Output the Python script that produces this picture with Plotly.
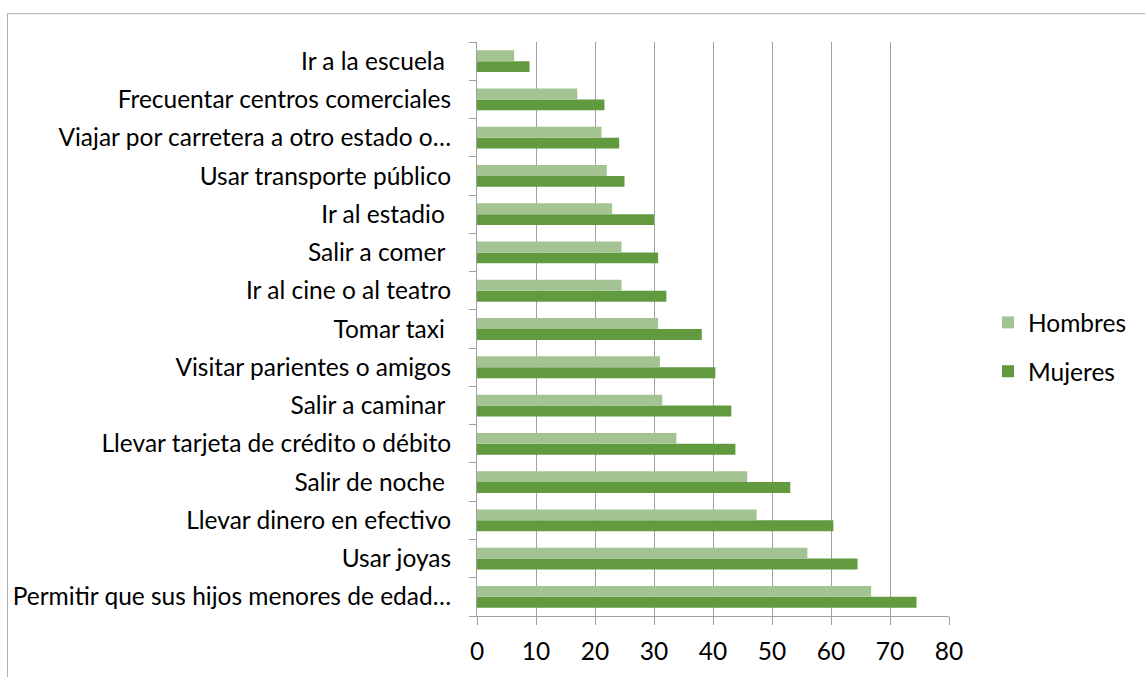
import plotly.graph_objects as go

NB = "\u00a0"
categories = [
    "Permitir que sus hijos menores de edad…",
    "Usar joyas",
    "Llevar dinero en efectivo",
    "Salir de noche" + NB,
    "Llevar tarjeta de crédito o débito",
    "Salir a caminar" + NB,
    "Visitar parientes o amigos",
    "Tomar taxi" + NB,
    "Ir al cine o al teatro",
    "Salir a comer" + NB,
    "Ir al estadio" + NB,
    "Usar transporte público",
    "Viajar por carretera a otro estado o…",
    "Frecuentar centros comerciales",
    "Ir a la escuela" + NB,
]
hombres = [66.8, 56.0, 47.4, 45.8, 33.8, 31.4, 31.0, 30.7, 24.5, 24.5, 22.9, 22.0, 21.1, 17.0, 6.3]
mujeres = [74.5, 64.5, 60.4, 53.1, 43.8, 43.1, 40.4, 38.1, 32.1, 30.7, 30.0, 25.0, 24.1, 21.6, 8.9]
x_ticks = [0, 10, 20, 30, 40, 50, 60, 70, 80]

FONT = "Lato"
FS = 24.5
C_H = "#A3C492"
C_M = "#629B3F"
GRID = "#a0a0a0"

fig = go.Figure()
fig.add_trace(go.Bar(y=categories, x=mujeres, orientation="h", name="Mujeres",
                     legendgroup="m", legendrank=2,
                     marker=dict(color=C_M, line=dict(width=0))))
fig.add_trace(go.Bar(y=categories, x=hombres, orientation="h", name="Hombres",
                     legendgroup="h", legendrank=1,
                     marker=dict(color=C_H, line=dict(width=0))))

W, H = 1145, 677
L, R, T, B = 477, 196, 42, 59
pw, ph = W - L - R, H - T - B

def px(x):
    return (x - L) / pw

def py(y):
    return (H - B - y) / ph

fig.update_layout(
    width=W, height=H,
    margin=dict(l=L, r=R, t=T, b=B, pad=0),
    paper_bgcolor="white", plot_bgcolor="white",
    barmode="group", bargap=0.43, bargroupgap=0,
    font=dict(family=FONT, size=FS, color="#000000"),
    showlegend=True,
    legend=dict(x=px(988), y=py(348), xanchor="left", yanchor="middle",
                traceorder="grouped", font=dict(family=FONT, size=FS),
                itemwidth=30, tracegroupgap=14, bgcolor="rgba(0,0,0,0)"),
    xaxis=dict(range=[0, 80], tickvals=x_ticks, ticktext=[str(v) for v in x_ticks],
               showgrid=True, gridcolor=GRID, gridwidth=1,
               showline=True, linecolor=GRID, linewidth=1,
               ticks="outside", ticklen=8, tickcolor=GRID, ticklabelstandoff=6,
               zeroline=False, tickfont=dict(size=FS, family=FONT)),
    yaxis=dict(type="category", categoryorder="array", categoryarray=categories,
               showgrid=False, showline=True, linecolor=GRID, linewidth=1,
               ticks="outside", ticklen=7, tickcolor=GRID, tickson="boundaries",
               ticklabelstandoff=20, tickfont=dict(size=FS, family=FONT)),
    shapes=[dict(type="rect", xref="paper", yref="paper",
                 x0=px(7.5), x1=px(1170), y0=py(700), y1=py(13.5),
                 line=dict(color="#b0b0b0", width=1), fillcolor="rgba(0,0,0,0)",
                 layer="below")],
)

fig.write_html("out.html", config={"displayModeBar": False},
               post_script="document.body.style.margin='0';document.body.style.overflow='hidden';")
